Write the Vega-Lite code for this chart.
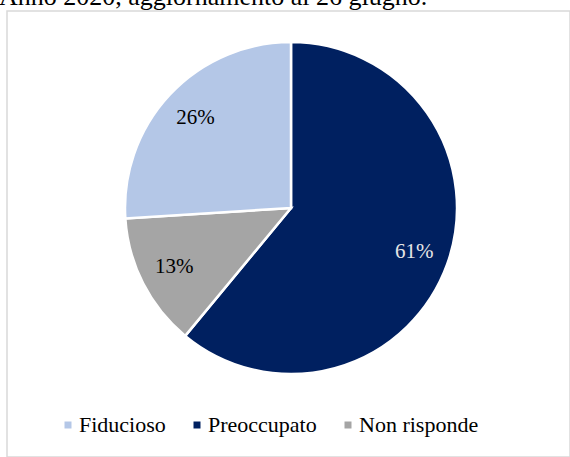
{
  "$schema": "https://vega.github.io/schema/vega-lite/v6.json",
  "autosize": {"type": "none"},
  "width": 563,
  "height": 446,
  "padding": {"left": 7, "top": 11, "right": 0, "bottom": 0},
  "background": "white",
  "view": {"stroke": "#d9d9d9", "strokeWidth": 1.5},
  "title": {
    "text": "Anno 2020, aggiornamento al 26 giugno.",
    "anchor": "start",
    "frame": "group",
    "font": "Liberation Serif",
    "fontSize": 26,
    "fontWeight": "normal",
    "color": "#000000",
    "baseline": "alphabetic",
    "offset": 0,
    "dy": 20,
    "dx": -8
  },
  "config": {
    "font": "Liberation Serif"
  },
  "data": {
    "values": [
      {"cat": "Preoccupato", "value": 61, "label": "61%", "ord": 1},
      {"cat": "Non risponde", "value": 13, "label": "13%", "ord": 2},
      {"cat": "Fiducioso", "value": 26, "label": "26%", "ord": 3}
    ]
  },
  "encoding": {
    "theta": {"field": "value", "type": "quantitative", "stack": true},
    "order": {"field": "ord", "type": "quantitative"}
  },
  "layer": [
    {
      "mark": {"type": "arc", "outerRadius": 166, "stroke": "white", "strokeWidth": 2.5, "y": {"expr": "height/2 - 26"}, "x": {"expr": "width/2 + 2.5"}},
      "encoding": {
        "color": {
          "field": "cat",
          "type": "nominal",
          "scale": {"domain": ["Fiducioso", "Preoccupato", "Non risponde"], "range": ["#b4c7e7", "#002060", "#a5a5a5"]},
          "legend": {
            "title": null,
            "orient": "none",
            "direction": "horizontal",
            "legendX": 50,
            "legendY": 403,
            "padding": 0,
            "symbolType": "square",
            "symbolSize": 49,
            "symbolStrokeWidth": 0,
            "labelFont": "Liberation Serif",
            "labelFontSize": 22,
            "labelColor": "#000000",
            "labelOffset": 0,
            "columnPadding": 20
          }
        }
      }
    },
    {
      "mark": {"type": "text", "radius": 131, "font": "Liberation Serif", "fontSize": 21, "y": {"expr": "height/2 - 26"}, "x": {"expr": "width/2 + 2.5"}},
      "encoding": {
        "text": {"field": "label", "type": "nominal"},
        "color": {"condition": {"test": "datum.cat === 'Preoccupato'", "value": "#e6e6e6"}, "value": "#000000"}
      }
    }
  ]
}
